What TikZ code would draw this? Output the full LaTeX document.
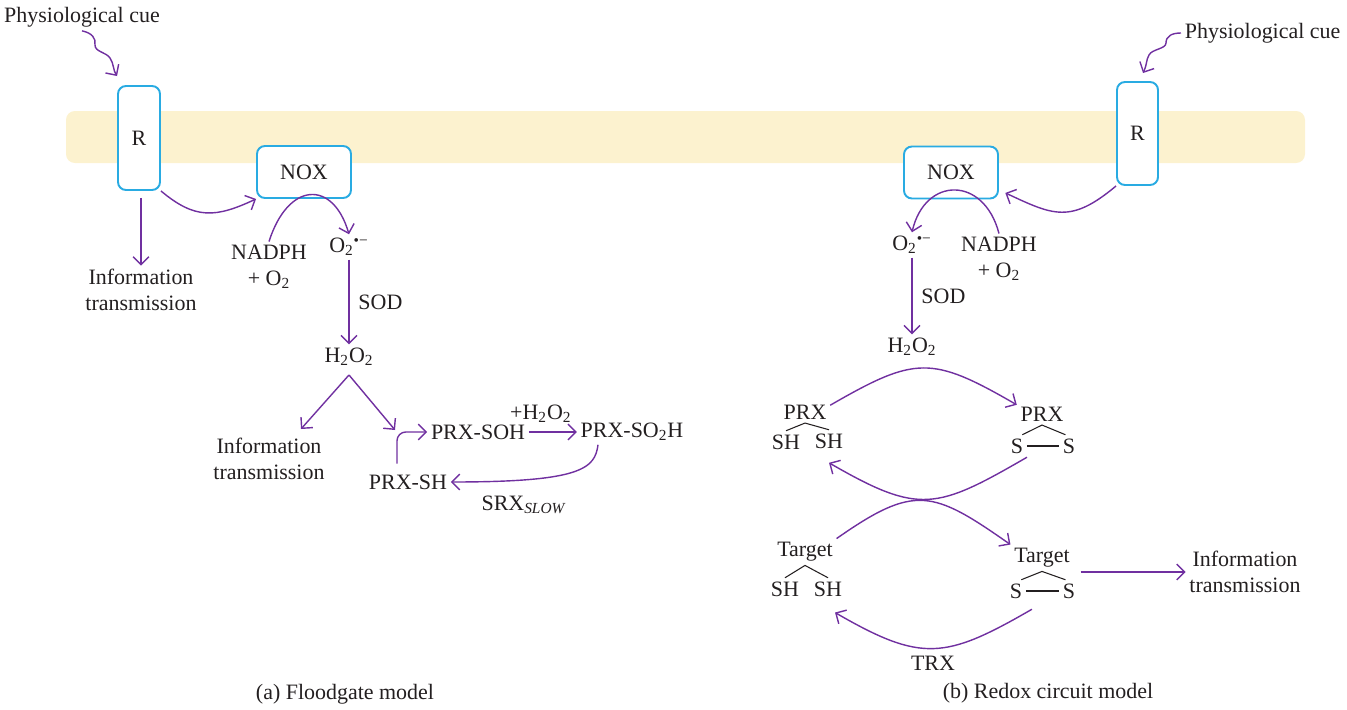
\documentclass[tikz,border=0pt]{standalone}
\usepackage{fontspec}
\setmainfont{Liberation Serif}
\usetikzlibrary{arrows.meta,calc,positioning}

\definecolor{flowc}{RGB}{112,48,160}
\definecolor{boxc}{RGB}{41,171,226}
\definecolor{membc}{RGB}{252,242,207}
\definecolor{inkc}{RGB}{35,31,32}

\tikzset{
  flow/.style={draw=flowc, line width=0.8pt, -{Straight Barb[length=4.5pt,width=9pt]}},
  protbox/.style={draw=boxc, line width=1.1pt, fill=white, rounded corners=4.5pt, text=inkc},
  lbl/.style={text=inkc, inner sep=2pt, align=center},
  bond/.style={draw=inkc, line width=0.6pt},
}

\begin{document}
\begin{tikzpicture}[x=0.02cm,y=0.02cm,font=\fontsize{12.5}{14.5}\selectfont]
\useasboundingbox (0,0) rectangle (1347,-710);

% membrane
\fill[membc, rounded corners=5pt] (66,-111) rectangle (1305,-163);

%%% (a) floodgate
\node[protbox, minimum width=0.84cm, minimum height=2.08cm] (rl) at (139,-138) {R};
\node[protbox, minimum width=1.88cm, minimum height=1.04cm] (noxl) at (304,-172) {NOX};

\node[lbl] (cuel) at (82,-17) {Physiological cue};
\coordinate (cuetipl) at (117,-76);
\node[lbl] (infol) at (141,-290) {Information\\transmission};
\node[lbl] (nadphl) at (269,-267) {NADPH\\+ O\textsubscript{2}};
\node[lbl] (o2l) at (349,-247) {O\textsubscript{2}\textsuperscript{•−}};
\node[lbl] (h2o2l) at (349,-357) {H\textsubscript{2}O\textsubscript{2}};
\node[lbl] (infol2) at (269,-459) {Information\\transmission};
\node[lbl] (prxsoh) at (478,-432) {PRX-SOH};
\node[lbl] (prxso2h) at (632,-432) {PRX-SO\textsubscript{2}H};
\node[lbl] (prxsh) at (408,-482) {PRX-SH};
\node[lbl] (srx) at (524,-505) {SRX\textsubscript{\textit{SLOW}}};

\draw[flow] (cuel.south) .. controls (92,-33) and (96,-38) .. (95,-45)
  .. controls (95,-52) and (106,-52) .. (110,-58)
  .. controls (114,-64) and (113,-70) .. (cuetipl);
\draw[flow, shorten <=4pt] (infol.north |- rl.south) -- (infol.north);
\draw[flow] (rl.south east) to[out=-40,in=205,looseness=1.2] (noxl.south west);
\draw[flow] (nadphl.north) .. controls +(19,60) and +(-16,55) .. (o2l.north);
\draw[flow] (o2l.south) -- (o2l.south |- h2o2l.north) node[lbl, midway, right=3pt] {SOD};

\coordinate (fork) at ([yshift=-3pt]h2o2l.south);
\coordinate (forkl) at (301,-429);
\coordinate (forkr) at (395,-430);
\draw[flow] (fork) -- (forkl);
\draw[flow] (fork) -- (forkr);
\draw[flow, rounded corners=5pt] ([xshift=-0.22cm,yshift=4pt]prxsh.north) |- (prxsoh.west);
\draw[flow] (prxsoh) -- (prxso2h) node[lbl, pos=0.25, above=3pt] {+H\textsubscript{2}O\textsubscript{2}};
\draw[flow] ([xshift=-0.68cm]prxso2h.south) .. controls +(-3,-24) and +(130,0) .. (prxsh.east);

\node[lbl] (capa) at (345,-694) {(a) Floodgate model};

%%% (b) redox circuit
\node[protbox, minimum width=0.82cm, minimum height=2.06cm] (rr) at (1137.5,-133.5) {R};
\node[protbox, minimum width=1.88cm, minimum height=1.04cm] (noxr) at (951,-172.5) {NOX};

\node[lbl, anchor=west] (cuer) at (1181,-33) {Physiological cue};
\coordinate (cuetipr) at (1143,-73);
\node[lbl] (o2r) at (912,-245) {O\textsubscript{2}\textsuperscript{•−}};
\node[lbl] (nadphr) at (999,-259) {NADPH\\+ O\textsubscript{2}};
\node[lbl] (h2o2r) at (912,-347) {H\textsubscript{2}O\textsubscript{2}};

\draw[flow] (cuer.west) .. controls (1172,-33) and (1166,-36) .. (1166,-43)
  .. controls (1166,-49) and (1152,-49) .. (1149,-55)
  .. controls (1146,-60) and (1147,-65) .. (cuetipr);
\draw[flow, shorten >=4pt] (rr.south west) to[out=-140,in=-25,looseness=1.3] (noxr.-20);
\draw[flow] (nadphr.north) .. controls +(-15,58) and +(13,56) .. (o2r.north);
\draw[flow] (o2r.south) -- (o2r.south |- h2o2r.north) node[lbl, midway, right=3pt] {SOD};

% PRX pair
\node[lbl] (prxa) at (805,-412) {PRX};
\node[lbl] (sha1) at (786,-442) {SH};
\node[lbl] (sha2) at (829,-441) {SH};
\draw[bond] (sha1.north) -- (prxa.south) -- (sha2.north);

\node[lbl] (prxb) at (1042,-414) {PRX};
\node[lbl] (sb1) at (1017,-446) {S};
\node[lbl] (sb2) at (1069,-446) {S};
\draw[bond] ([xshift=3pt]sb1.north) -- (prxb.south) -- ([xshift=-2pt]sb2.north);
\draw[bond] (sb1.east) -- (sb2.west);

% target pair
\node[lbl] (tga) at (805,-552) {Target};
\node[lbl] (sht1) at (785,-589) {SH};
\node[lbl] (sht2) at (828,-589) {SH};
\draw[bond] (sht1.north) -- (tga.south) -- (sht2.north);

\node[lbl] (tgb) at (1042,-558) {Target};
\node[lbl] (st1) at (1016,-591) {S};
\node[lbl] (st2) at (1069,-591) {S};
\draw[bond] ([xshift=3pt]st1.north) -- (tgb.south) -- ([xshift=-2pt]st2.north);
\draw[bond] (st1.east) -- (st2.west);

\node[lbl] (infor) at (1245,-572) {Information\\transmission};
\node[lbl] (trx) at (933,-663) {TRX};

\draw[flow] (prxa.15) to[out=30,in=150,looseness=1.35] (prxb.160);
\draw[flow] (sb1.south east) to[out=-150,in=-30,looseness=1.35] ([yshift=-6pt]sha2.south);
\draw[flow] (tga.north east) to[out=35,in=145,looseness=1.4] (tgb.north west);
\draw[flow] ([xshift=4pt]tgb.east |- infor.west) -- (infor.west);
\draw[flow] ([yshift=-4pt]$(st1.south)!0.3!(st2.south)$) to[out=-150,in=-30,looseness=1.3] ([shift={(4pt,-7pt)}]sht2.south);

\node[lbl] (capb) at (1048,-693) {(b) Redox circuit model};

\end{tikzpicture}
\end{document}
